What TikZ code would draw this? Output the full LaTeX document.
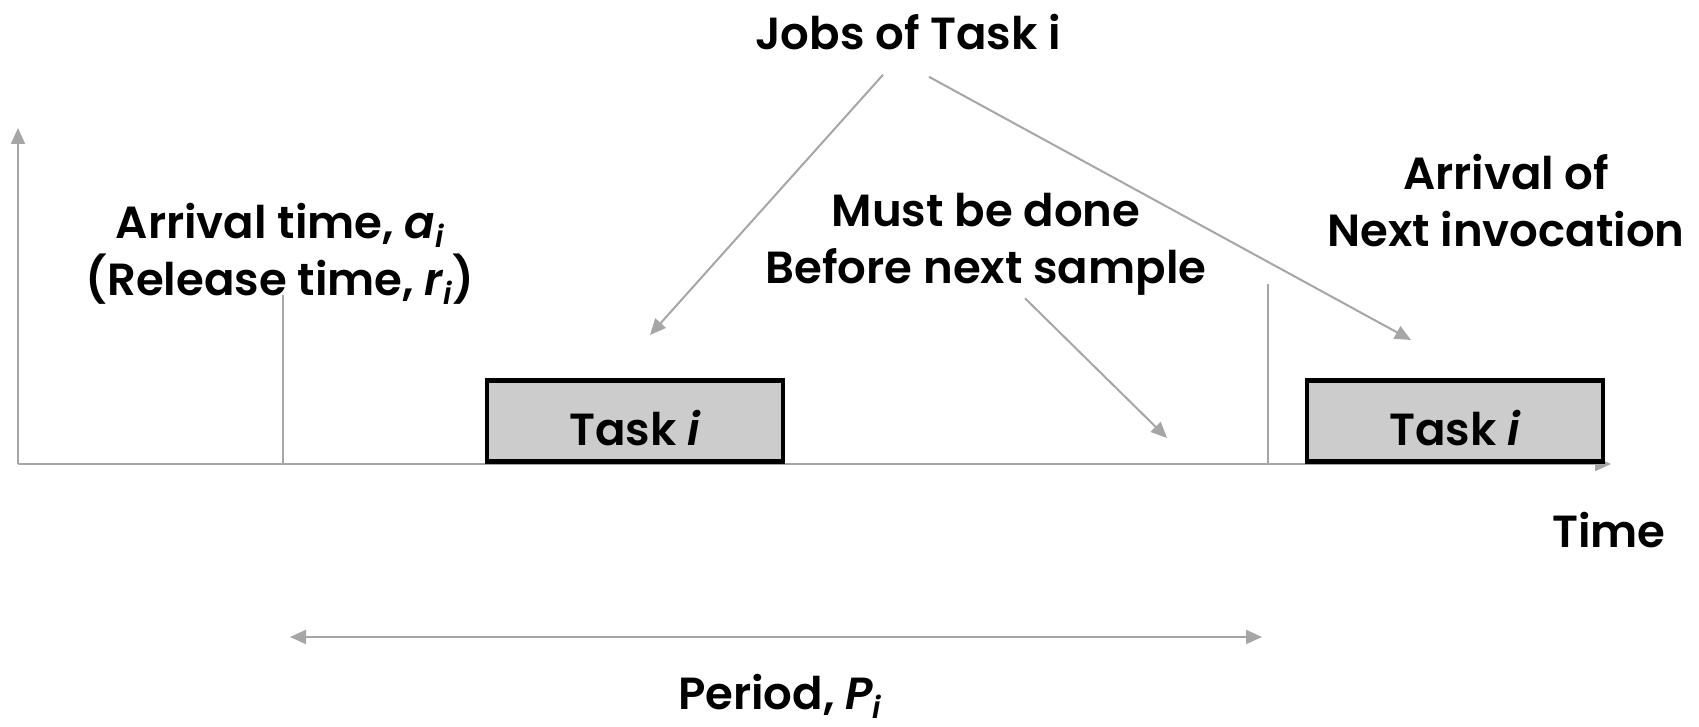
\documentclass[tikz,border=0pt]{standalone}
\usepackage{fontspec}
\setmainfont{Poppins}[BoldFont={Poppins SemiBold}, BoldItalicFont={Poppins SemiBold Italic}]
\usetikzlibrary{arrows.meta,positioning,calc}
\definecolor{axisgray}{HTML}{A6A6A6}
\definecolor{taskgray}{HTML}{CCCCCC}
\newcommand{\idx}[1]{\raisebox{-0.2em}{\fontsize{15}{15}\selectfont\textit{#1}}}
\begin{document}
\begin{tikzpicture}[x=0.5pt,y=-0.5pt]
    % Styles
        \tikzstyle{label} = [font=\fontsize{22.5}{28.8}\selectfont\bfseries, align=center, inner sep=0pt, anchor=base]
        \tikzstyle{task} = [rectangle, draw=black, fill=taskgray, line width=2.2pt, minimum width=148pt, minimum height=40.5pt, inner sep=0pt, text height=24pt, text depth=0pt, font=\fontsize{22.5}{28.8}\selectfont\bfseries]
        \tikzstyle{line} = [draw=axisgray, line width=1pt]
        \tikzstyle{pointer} = [line, -{Triangle[length=8pt, width=7pt]}]
        \useasboundingbox (0,0) rectangle (1699,727);
    % axes
        \coordinate (origin) at (18,464);
        \coordinate (ytip) at (18,128);
        \coordinate (xtip) at (1611,464);
        \path [pointer] (origin) -- (ytip);
        \path [pointer] (origin) -- (xtip);
    % ticks
        \coordinate (release) at (283,464);
        \coordinate (releasetop) at (283,295);
        \coordinate (deadline) at (1268,464);
        \coordinate (deadlinetop) at (1268,284);
        \path [line] (release) -- (releasetop);
        \path [line] (deadline) -- (deadlinetop);
    % task boxes
        \node [task] (task1) at (635,421) {Task \textit{i}};
        \node [task] (task2) at (1455,421) {Task \textit{i}};
    % labels
        \node [label] (jobs) at (908,50) {Jobs of Task i};
        \node [label] (arrival) at (280,296) {Arrival time, \textit{a}\idx{i}\\(Release time, \textit{r}\idx{i})};
        \node [label] (done) at (986,284) {Must be done\\Before next sample};
        \node [label] (next) at (1506,247) {Arrival of\\Next invocation};
        \node [label] (time) at (1609,547) {Time};
        \node [label] (period) at (780,709) {Period, \textit{P}\idx{i}};
    % pointers
        \coordinate (jobtip1) at (650,335);
        \coordinate (jobtip2) at (1411,340);
        \coordinate (donetip) at (1167,438);
        \path [pointer] ($(jobs.south)+(-25,24)$) -- (jobtip1);
        \path [pointer] ($(jobs.south)+(21,26)$) -- (jobtip2);
        \path [pointer] ($(done.south)+(39,2)$) -- (donetip);
    % period
        \coordinate (periodL) at (290,637);
        \coordinate (periodR) at (1262,637);
        \path [line, {Triangle[length=8pt, width=7pt]}-{Triangle[length=8pt, width=7pt]}] (periodL) -- (periodR);
\end{tikzpicture}
\end{document}
